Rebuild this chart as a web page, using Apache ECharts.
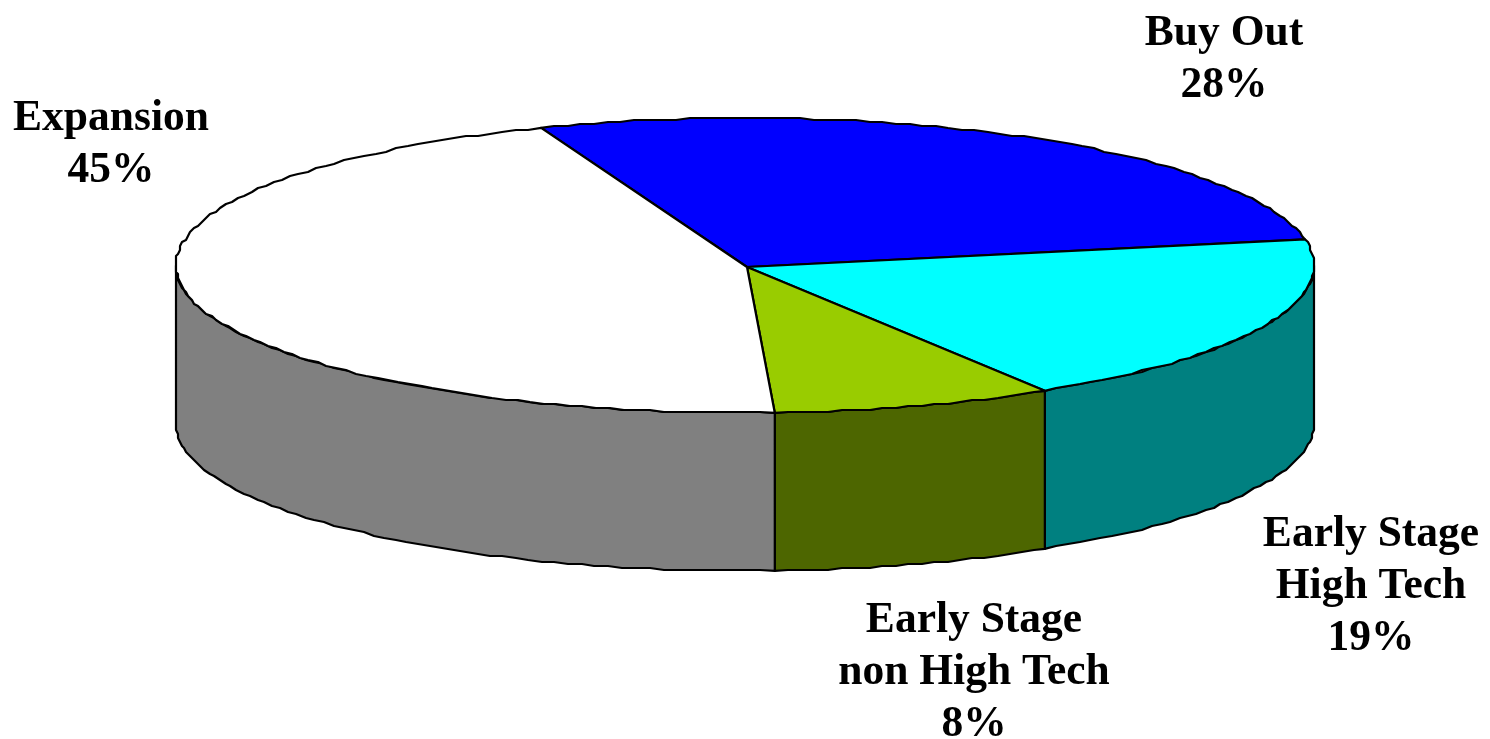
<!DOCTYPE html>
<html>
<head>
<meta charset="utf-8">
<style>html,body{margin:0;padding:0;background:#fff}#c{width:1490px;height:739px}</style>
<script src="https://cdn.jsdelivr.net/npm/echarts@6/dist/echarts.min.js"></script>
</head>
<body>
<div id="c"></div>
<script>
// Data
const categories = ['Buy Out', 'Early Stage\nHigh Tech', 'Early Stage\nnon High Tech', 'Expansion'];
const shares = [28, 19, 8, 45];

// Styles and layout, separate from the data
const topColors = ['#0000ff', '#00ffff', '#99cc00', '#ffffff'];
const sideColors = ['#000080', '#008080', '#4d6600', '#808080'];
const labelAnchors = [[1224, 8], [1371, 509], [974, 595], [111, 93]];
const pie = {cx: 745, cy: 265.5, rx: 569, ry: 147.5, depth: 158, startDeg: -21, tipX: 747, tipY: 267, snap: 2};

const total = shares.reduce((a, b) => a + b, 0);
const snap = v => Math.round(v / pie.snap) * pie.snap;
const pt = (deg, dy) => {
  const r = deg * Math.PI / 180;
  return [pie.cx + pie.rx * Math.sin(r), pie.cy - pie.ry * Math.cos(r) + (dy || 0)];
};
function arc(a0, a1, dy) {
  const n = Math.max(1, Math.round(Math.abs(a1 - a0) / 1.4));
  const pts = [pt(a0, dy)];
  for (let i = 1; i < n; i++) {
    const p = pt(a0 + (a1 - a0) * i / n, dy);
    pts.push([snap(p[0]), snap(p[1])]);
  }
  pts.push(pt(a1, dy));
  return pts;
}
const lineStyle = (fill) => ({fill: fill, stroke: '#000', lineWidth: 2.2, lineJoin: 'round'});

function renderItem(params, api) {
  const i = params.dataIndex;
  const before = shares.slice(0, i).reduce((a, b) => a + b, 0);
  const a0 = pie.startDeg + before / total * 360;
  const a1 = a0 + api.value(0) / total * 360;
  const children = [];
  // visible outer wall: front half of the rim only
  const w0 = Math.max(a0, 90), w1 = Math.min(a1, 270);
  if (w1 > w0) {
    const wall = arc(w0, w1, 0).concat(arc(w1, w0, pie.depth));
    children.push({type: 'polygon', z2: 1, shape: {points: wall}, style: lineStyle(sideColors[i])});
  }
  // top face
  const top = [[pie.tipX, pie.tipY]].concat(arc(a0, a1, 0));
  children.push({type: 'polygon', z2: 2, shape: {points: top}, style: lineStyle(topColors[i])});
  // label
  children.push({
    type: 'text', z2: 3,
    x: labelAnchors[i][0], y: labelAnchors[i][1],
    style: {
      text: categories[i] + '\n' + api.value(0) + '%',
      fill: '#000',
      font: 'bold 43.5px "Liberation Serif", "Times New Roman", serif',
      lineHeight: 52, align: 'center', verticalAlign: 'top'
    }
  });
  return {type: 'group', children: children};
}

const chart = echarts.init(document.getElementById('c'), null, {renderer: 'canvas'});
chart.setOption({
  animation: false,
  backgroundColor: '#ffffff',
  series: [{
    type: 'custom',
    coordinateSystem: 'none',
    renderItem: renderItem,
    data: shares.map((v, i) => ({name: categories[i], value: [v]}))
  }]
});
</script>
</body>
</html>
